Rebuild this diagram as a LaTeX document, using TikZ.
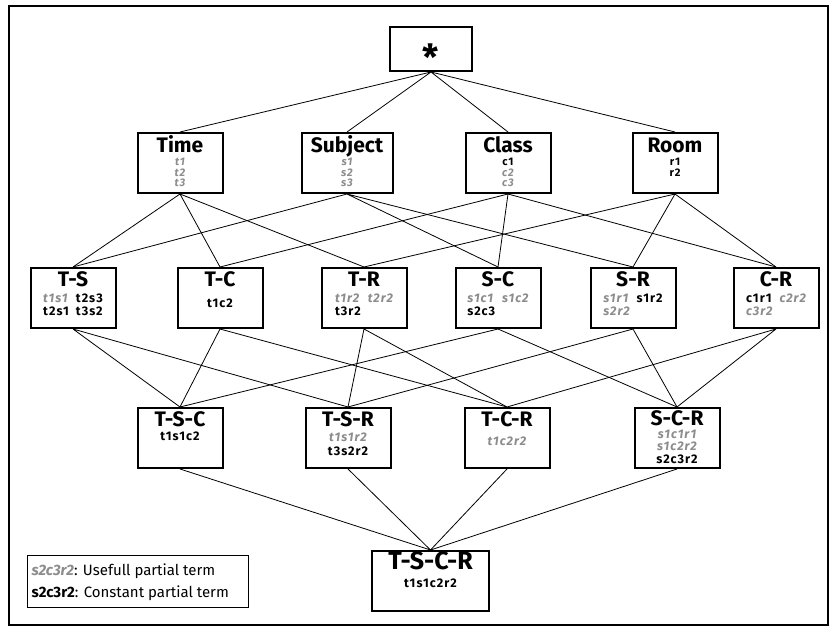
\documentclass[tikz,border=0pt]{standalone}
\usepackage{fontspec}
\setmainfont{Fira Sans}
\newfontfamily\tuplefont[LetterSpace=8]{Fira Sans}
\usetikzlibrary{calc}
\definecolor{usefull}{gray}{0.55}
\newcommand{\useterm}[1]{{\color{usefull}\bfseries\itshape #1}}

\begin{document}
\begin{tikzpicture}[x=1pt, y=-1pt]
%styles
\tikzstyle{lbox}=[draw, line width=2pt, minimum width=85pt, minimum height=60pt, inner sep=0pt]
\tikzstyle{ttl}=[inner sep=0pt, anchor=base, font=\fontsize{21}{22}\selectfont\bfseries]
\tikzstyle{tuples}=[inner sep=0pt, anchor=north, font=\tuplefont\fontsize{12.5}{13}\selectfont\bfseries]
\tikzstyle{edge}=[line width=0.8pt]

\useasboundingbox (0,0) rectangle (830,628);
%frame
\draw[line width=1.5pt] (9,6) rectangle (828,625);

%top
\node[lbox, minimum width=82pt, minimum height=44pt] (all) at (431,49) {};
\node[inner sep=0pt, anchor=base, font=\fontsize{36}{36}\selectfont\bfseries] (all-t) at ($(all.north)+(0,45)$) {*};

%level 1
\node[lbox] (time) at (180,163) {};
\node[lbox, minimum width=91pt] (subj) at (347,163) {};
\node[lbox] (class) at (508,163) {};
\node[lbox] (room) at (675,163) {};
\node[ttl] (time-t) at ($(time.north)+(0,21)$) {Time};
\node[ttl] (subj-t) at ($(subj.north)+(0,21)$) {Subject};
\node[ttl] (class-t) at ($(class.north)+(0,21)$) {Class};
\node[ttl] (room-t) at ($(room.north)+(0,21)$) {Room};
\node[tuples, font=\tuplefont\fontsize{11}{10}\selectfont\bfseries] (time-v) at ($(time.north)+(0,26)$) {\begin{tabular}{@{}c@{}}\useterm{t1}\\\useterm{t2}\\\useterm{t3}\end{tabular}};
\node[tuples, font=\tuplefont\fontsize{11}{10}\selectfont\bfseries] (subj-v) at ($(subj.north)+(0,26)$) {\begin{tabular}{@{}c@{}}\useterm{s1}\\\useterm{s2}\\\useterm{s3}\end{tabular}};
\node[tuples, font=\tuplefont\fontsize{11}{10}\selectfont\bfseries] (class-v) at ($(class.north)+(0,26)$) {\begin{tabular}{@{}c@{}}c1\\\useterm{c2}\\\useterm{c3}\end{tabular}};
\node[tuples, font=\tuplefont\fontsize{11}{10}\selectfont\bfseries] (room-v) at ($(room.north)+(0,26)$) {\begin{tabular}{@{}c@{}}r1\\r2\end{tabular}};

%level 2
\node[lbox] (ts) at (73,298) {};
\node[lbox] (tc) at (220,298) {};
\node[lbox] (tr) at (364,298) {};
\node[lbox] (sc) at (498,298) {};
\node[lbox] (sr) at (633,298) {};
\node[lbox] (cr) at (776,298) {};
\node[ttl] (ts-t) at ($(ts.north)+(0,20)$) {T-S};
\node[ttl] (tc-t) at ($(tc.north)+(0,20)$) {T-C};
\node[ttl] (tr-t) at ($(tr.north)+(0,20)$) {T-R};
\node[ttl] (sc-t) at ($(sc.north)+(0,20)$) {S-C};
\node[ttl] (sr-t) at ($(sr.north)+(0,20)$) {S-R};
\node[ttl] (cr-t) at ($(cr.north)+(0,20)$) {C-R};
\node[tuples] (ts-v) at ($(ts.north)+(0,26)$) {\begin{tabular}{@{}l@{\hspace{7pt}}l@{}}\useterm{t1s1} & t2s3\\t2s1 & t3s2\end{tabular}};
\node[tuples] (tc-v) at ($(tc.north)+(0,32)$) {t1c2};
\node[tuples] (tr-v) at ($(tr.north)+(0,26)$) {\begin{tabular}{@{}l@{\hspace{7pt}}l@{}}\useterm{t1r2} & \useterm{t2r2}\\t3r2 & \end{tabular}};
\node[tuples] (sc-v) at ($(sc.north)+(0,26)$) {\begin{tabular}{@{}l@{\hspace{7pt}}l@{}}\useterm{s1c1} & \useterm{s1c2}\\s2c3 & \end{tabular}};
\node[tuples] (sr-v) at ($(sr.north)+(0,26)$) {\begin{tabular}{@{}l@{\hspace{7pt}}l@{}}\useterm{s1r1} & s1r2\\\useterm{s2r2} & \end{tabular}};
\node[tuples] (cr-v) at ($(cr.north)+(0,26)$) {\begin{tabular}{@{}l@{\hspace{7pt}}l@{}}c1r1 & \useterm{c2r2}\\\useterm{c3r2} & \end{tabular}};

%level 3
\node[lbox] (tsc) at (180,438) {};
\node[lbox] (tsr) at (348,438) {};
\node[lbox] (tcr) at (507,438) {};
\node[lbox] (scr) at (677,438) {};
\node[ttl] (tsc-t) at ($(tsc.north)+(0,19)$) {T-S-C};
\node[ttl] (tsr-t) at ($(tsr.north)+(0,19)$) {T-S-R};
\node[ttl] (tcr-t) at ($(tcr.north)+(0,19)$) {T-C-R};
\node[ttl] (scr-t) at ($(scr.north)+(0,18)$) {S-C-R};
\node[tuples, font=\tuplefont\fontsize{12.5}{14}\selectfont\bfseries] (tsc-v) at ($(tsc.north)+(0,25)$) {t1s1c2};
\node[tuples, font=\tuplefont\fontsize{12.5}{14}\selectfont\bfseries] (tsr-v) at ($(tsr.north)+(0,24)$) {\begin{tabular}{@{}c@{}}\useterm{t1s1r2}\\t3s2r2\end{tabular}};
\node[tuples, font=\tuplefont\fontsize{12.5}{14}\selectfont\bfseries] (tcr-v) at ($(tcr.north)+(0,30)$) {\useterm{t1c2r2}};
\node[tuples, font=\tuplefont\fontsize{12.5}{12}\selectfont\bfseries] (scr-v) at ($(scr.north)+(0,23)$) {\begin{tabular}{@{}c@{}}\useterm{s1c1r1}\\\useterm{s1c2r2}\\s2c3r2\end{tabular}};

%bottom
\node[lbox, minimum width=117pt] (tscr) at (430.5,581) {};
\node[ttl, font=\fontsize{25}{26}\selectfont\bfseries] (tscr-t) at ($(tscr.north)+(0,19)$) {T-S-C-R};
\node[tuples] (tscr-v) at ($(tscr.north)+(0,29)$) {t1s1c2r2};

%legend
\node[draw, line width=1pt, minimum width=221pt, minimum height=52pt, inner sep=0pt] (legend) at (137.5,581) {};
\node[anchor=base west, inner sep=0pt, font=\fontsize{15}{16}\selectfont] (leg-u) at ($(legend.west)+(5,-6)$) {\useterm{s2c3r2}: Usefull partial term};
\node[anchor=base west, inner sep=0pt, font=\fontsize{15}{16}\selectfont] (leg-c) at ($(legend.west)+(5,16)$) {\textbf{s2c3r2}: Constant partial term};

%edges
\draw[edge] (all.south) -- (time.north) (all.south) -- (subj.north) (all.south) -- (class.north) (all.south) -- (room.north);

\draw[edge] (time.south) -- (ts.north) (time.south) -- (tc.north) (time.south) -- (tr.north);
\draw[edge] (subj.south) -- (ts.north) (subj.south) -- (sc.north) (subj.south) -- (sr.north);
\draw[edge] (class.south) -- (tc.north) (class.south) -- (sc.north) (class.south) -- (cr.north);
\draw[edge] (room.south) -- (tr.north) (room.south) -- (sr.north) (room.south) -- (cr.north);

\draw[edge] (ts.south) -- (tsc.north) (ts.south) -- (tsr.north);
\draw[edge] (tc.south) -- (tsc.north) (tc.south) -- (tcr.north);
\draw[edge] (tr.south) -- (tsr.north) (tr.south) -- (tcr.north);
\draw[edge] (sc.south) -- (tsc.north) (sc.south) -- (scr.north);
\draw[edge] (sr.south) -- (tsr.north) (sr.south) -- (scr.north);
\draw[edge] (cr.south) -- (tcr.north) (cr.south) -- (scr.north);

\draw[edge] (tsc.south) -- (tscr.north) (tsr.south) -- (tscr.north) (tcr.south) -- (tscr.north) (scr.south) -- (tscr.north);

\end{tikzpicture}
\end{document}
